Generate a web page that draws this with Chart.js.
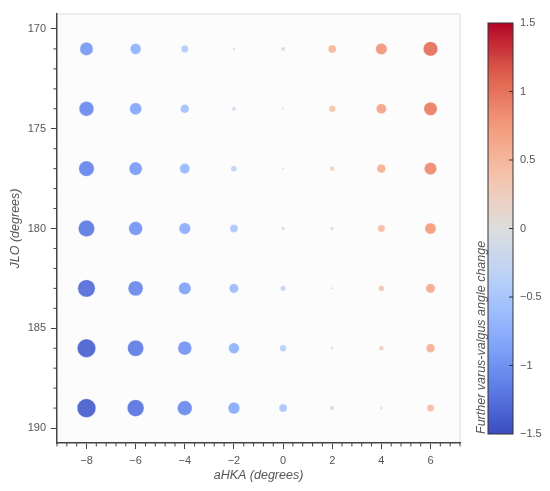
<!DOCTYPE html>
<html lang="en">
<head>
  <meta charset="UTF-8">
  <title>JLO vs aHKA — varus-valgus change</title>
  <script src="https://cdn.jsdelivr.net/npm/chart.js"></script>
  <style>
    body {
      margin: 0;
      background: #ffffff;
      font-family: "Liberation Sans", Arial, sans-serif;
    }
    #wrap {
      position: relative;
      width: 550px;
      height: 491px;
    }
    .box {
      position: absolute;
      top: 0;
      height: 491px;
    }
    #mainBox { left: 0; width: 470px; }
    #barBox { left: 462px; width: 88px; }
  </style>
</head>
<body>
  <div id="wrap">
    <div class="box" id="mainBox"><canvas id="mainChart"></canvas></div>
    <div class="box" id="barBox"><canvas id="colorBar"></canvas></div>
  </div>

  <script>
    // aHKA columns and JLO rows
    const aHKA = [-8, -6, -4, -2, 0, 2, 4, 6];
    const JLO = [171, 174, 177, 180, 183, 186, 189];

    // further varus-valgus angle change, one array per JLO row
    const row171 = [-0.94, -0.73, -0.44, -0.06, 0.17, 0.50, 0.78, 1.03];
    const row174 = [-1.06, -0.83, -0.56, -0.17, 0.03, 0.39, 0.67, 0.94];
    const row177 = [-1.11, -0.92, -0.67, -0.33, -0.02, 0.23, 0.56, 0.86];
    const row180 = [-1.19, -0.98, -0.78, -0.50, -0.11, 0.11, 0.44, 0.75];
    const row183 = [-1.28, -1.08, -0.86, -0.61, -0.28, -0.03, 0.33, 0.61];
    const row186 = [-1.36, -1.17, -0.98, -0.73, -0.39, -0.06, 0.23, 0.56];
    const row189 = [-1.39, -1.23, -1.06, -0.81, -0.50, -0.17, 0.06, 0.44];
    const changeRows = [row171, row174, row177, row180, row183, row186, row189];

    const xTicks = [-8, -6, -4, -2, 0, 2, 4, 6];
    const yTicks = [170, 175, 180, 185, 190];
    const barTicks = [1.5, 1, 0.5, 0, -0.5, -1, -1.5];

    const vMin = -1.5, vMax = 1.5;

    // coolwarm colormap anchors
    const coolwarm = [
      [59, 76, 192], [98, 130, 234], [141, 176, 254], [184, 208, 249],
      [221, 221, 221], [245, 196, 173], [244, 154, 123], [222, 96, 77], [180, 4, 38]
    ];
    function cmap(v, alpha) {
      let t = (v - vMin) / (vMax - vMin);
      t = Math.max(0, Math.min(1, t));
      const pos = t * (coolwarm.length - 1);
      const i = Math.min(Math.floor(pos), coolwarm.length - 2);
      const f = pos - i;
      const c = coolwarm[i].map((a, k) => Math.round(a + (coolwarm[i + 1][k] - a) * f));
      return `rgba(${c[0]}, ${c[1]}, ${c[2]}, ${alpha})`;
    }

    const minus = v => String(v).replace('-', '\u2212');

    const points = [];
    JLO.forEach((y, r) => {
      aHKA.forEach((x, c) => {
        points.push({ x: x, y: y, v: changeRows[r][c] });
      });
    });

    const fontFam = '"Liberation Sans", Arial, sans-serif';
    const tickFont = { family: fontFam, size: 11 };
    const titleFont = { family: fontFam, size: 12.5, style: 'italic' };
    const textGrey = '#555555';
    const axisGrey = '#444444';

    // plot background, light frame and minor ticks
    const frame = {
      id: 'frame',
      beforeDraw(chart) {
        const { ctx, chartArea: a } = chart;
        ctx.save();
        ctx.fillStyle = '#fcfcfc';
        ctx.fillRect(a.left, a.top, a.right - a.left, a.bottom - a.top);
        ctx.strokeStyle = '#e6e6e6';
        ctx.lineWidth = 1.5;
        ctx.beginPath();
        ctx.moveTo(a.left, a.top);
        ctx.lineTo(a.right, a.top);
        ctx.lineTo(a.right, a.bottom);
        ctx.stroke();
        ctx.restore();
      },
      afterDraw(chart) {
        const { ctx, chartArea: a, scales } = chart;
        ctx.save();
        ctx.strokeStyle = axisGrey;
        ctx.lineWidth = 1;
        ctx.beginPath();
        for (let k = -23; k <= 18; k++) {
          const v = k * 0.4;
          if (xTicks.some(t => Math.abs(t - v) < 1e-6)) continue;
          const px = scales.x.getPixelForValue(v);
          if (px < a.left - 0.5 || px > a.right + 0.5) continue;
          ctx.moveTo(px, a.bottom);
          ctx.lineTo(px, a.bottom + 3.5);
        }
        for (let v = 170; v <= 190; v++) {
          if (yTicks.includes(v)) continue;
          const py = scales.y.getPixelForValue(v);
          ctx.moveTo(a.left, py);
          ctx.lineTo(a.left - 3.5, py);
        }
        ctx.stroke();
        ctx.restore();
      }
    };

    new Chart(document.getElementById('mainChart'), {
      type: 'scatter',
      data: {
        datasets: [{
          data: points,
          pointRadius: ctx => 1 + 6 * Math.abs(ctx.raw.v),
          pointBackgroundColor: ctx => cmap(ctx.raw.v, 0.92),
          pointBorderColor: 'rgba(255, 255, 255, 0.5)',
          pointBorderWidth: 0.5
        }]
      },
      options: {
        responsive: true,
        maintainAspectRatio: false,
        animation: false,
        events: [],
        layout: { padding: { top: 14, right: 10, left: 0, bottom: 0 } },
        plugins: { legend: { display: false }, tooltip: { enabled: false } },
        scales: {
          x: {
            min: -9.2,
            max: 7.2,
            afterBuildTicks: s => { s.ticks = xTicks.map(v => ({ value: v })); },
            afterFit: s => { s.height = 48; },
            ticks: { font: tickFont, color: textGrey, padding: 5, maxRotation: 0, callback: v => minus(v) },
            grid: { drawOnChartArea: false, tickLength: 6, tickColor: axisGrey, tickWidth: 1 },
            border: { display: true, color: axisGrey, width: 1.5 },
            title: { display: true, text: 'aHKA (degrees)', font: titleFont, color: textGrey, padding: { top: 0, bottom: 8 } }
          },
          y: {
            reverse: true,
            min: 169.25,
            max: 190.75,
            afterBuildTicks: s => { s.ticks = yTicks.map(v => ({ value: v })); },
            afterFit: s => { s.width = 57; },
            ticks: { font: tickFont, color: textGrey, padding: 5 },
            grid: { drawOnChartArea: false, tickLength: 6, tickColor: axisGrey, tickWidth: 1 },
            border: { display: true, color: axisGrey, width: 1.5 },
            title: { display: true, text: 'JLO (degrees)', font: titleFont, color: textGrey, padding: { top: 8, bottom: 0 } }
          }
        }
      },
      plugins: [frame]
    });

    // colour bar: gradient filled in the chart area, drawn against the y scale
    const gradientFill = {
      id: 'gradientFill',
      beforeDatasetsDraw(chart) {
        const { ctx, chartArea: a, scales } = chart;
        const g = ctx.createLinearGradient(0, a.bottom, 0, a.top);
        for (let i = 0; i <= 30; i++) {
          const t = i / 30;
          g.addColorStop(t, cmap(vMin + t * (vMax - vMin), 1));
        }
        ctx.save();
        ctx.fillStyle = g;
        ctx.fillRect(a.left, a.top, a.right - a.left, a.bottom - a.top);
        ctx.strokeStyle = '#333333';
        ctx.lineWidth = 1;
        ctx.strokeRect(a.left, a.top, a.right - a.left, a.bottom - a.top);
        ctx.beginPath();
        barTicks.forEach(v => {
          if (v === vMin || v === vMax) return;
          const py = scales.y.getPixelForValue(v);
          ctx.moveTo(a.right - 4, py);
          ctx.lineTo(a.right, py);
        });
        ctx.stroke();
        ctx.restore();
      }
    };

    new Chart(document.getElementById('colorBar'), {
      type: 'scatter',
      data: { datasets: [{ data: [] }] },
      options: {
        responsive: true,
        maintainAspectRatio: false,
        animation: false,
        events: [],
        layout: { padding: { top: 23, bottom: 57, left: 0, right: 0 } },
        plugins: { legend: { display: false }, tooltip: { enabled: false } },
        scales: {
          x: { display: false, min: 0, max: 1 },
          yl: {
            position: 'left',
            min: vMin,
            max: vMax,
            afterFit: s => { s.width = 26; },
            ticks: { display: false },
            grid: { display: false, drawTicks: false },
            border: { display: false },
            title: { display: true, text: 'Further varus-valgus angle change', align: 'start', font: titleFont, color: textGrey, padding: { top: 12, bottom: 0 } }
          },
          y: {
            position: 'right',
            min: vMin,
            max: vMax,
            afterBuildTicks: s => { s.ticks = barTicks.map(v => ({ value: v })); },
            afterFit: s => { s.width = 37; },
            ticks: { font: tickFont, color: textGrey, padding: 7, callback: v => minus(v) },
            grid: { display: false, drawTicks: false },
            border: { display: false }
          }
        }
      },
      plugins: [gradientFill]
    });
  </script>
</body>
</html>
